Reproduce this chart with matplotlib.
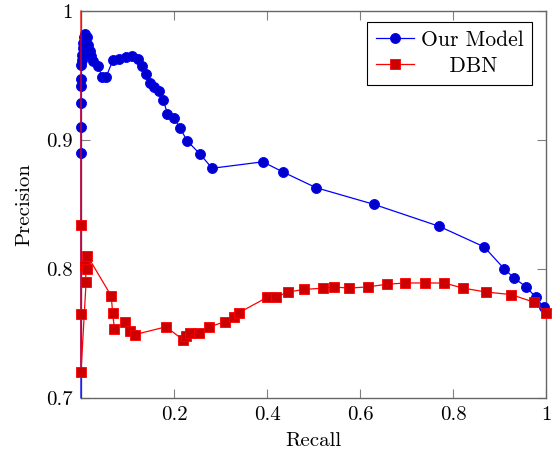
import matplotlib
matplotlib.use("Agg")
import matplotlib.pyplot as plt

plt.rcParams['font.family'] = ['cmr10', 'DejaVu Serif']
plt.rcParams['mathtext.fontset'] = 'cm'
plt.rcParams['axes.formatter.use_mathtext'] = True

# Our Model (first point is the line start without marker)
model_recall = [0.0, 0.0, 0.0, 0.0, 0.0, 0.0, 0.001, 0.002, 0.003, 0.004, 0.005, 0.006,
                0.008, 0.012, 0.016, 0.019, 0.022, 0.026, 0.037, 0.045, 0.054, 0.069,
                0.082, 0.097, 0.109, 0.123, 0.131, 0.140, 0.148, 0.157, 0.168, 0.177,
                0.186, 0.200, 0.213, 0.229, 0.256, 0.282, 0.391, 0.435, 0.505, 0.630,
                0.770, 0.867, 0.910, 0.931, 0.957, 0.978, 0.995]
model_precision = [0.700, 0.890, 0.910, 0.929, 0.942, 0.947, 0.958, 0.962, 0.966, 0.971, 0.975, 0.980,
                   0.982, 0.980, 0.974, 0.969, 0.965, 0.961, 0.957, 0.949, 0.949, 0.962,
                   0.963, 0.964, 0.965, 0.963, 0.957, 0.951, 0.944, 0.941, 0.938, 0.931,
                   0.920, 0.917, 0.909, 0.899, 0.889, 0.878, 0.883, 0.875, 0.863, 0.850,
                   0.833, 0.817, 0.800, 0.793, 0.786, 0.778, 0.770]

# DBN (first point is the line start without marker)
dbn_recall = [0.0, 0.0, 0.0, 0.0, 0.011, 0.009, 0.014, 0.014, 0.065, 0.068, 0.072,
              0.095, 0.105, 0.116, 0.183, 0.219, 0.226, 0.235, 0.254, 0.276, 0.310,
              0.328, 0.340, 0.401, 0.419, 0.445, 0.480, 0.520, 0.544, 0.576, 0.617,
              0.657, 0.697, 0.740, 0.781, 0.822, 0.871, 0.925, 0.975, 1.0]
dbn_precision = [1.0, 0.834, 0.765, 0.720, 0.790, 0.802, 0.800, 0.810, 0.779, 0.766, 0.753,
                 0.759, 0.752, 0.749, 0.755, 0.745, 0.748, 0.750, 0.750, 0.755, 0.759,
                 0.763, 0.766, 0.778, 0.778, 0.782, 0.784, 0.785, 0.786, 0.785, 0.786,
                 0.788, 0.789, 0.789, 0.789, 0.785, 0.782, 0.780, 0.774, 0.766]

xticks = [0.2, 0.4, 0.6, 0.8, 1.0]
xticklabels = ['0.2', '0.4', '0.6', '0.8', '1']
yticks = [0.7, 0.8, 0.9, 1.0]
yticklabels = ['0.7', '0.8', '0.9', '1']

fig = plt.figure(figsize=(5.57, 4.55), dpi=100)
ax = fig.add_axes([0.1454, 0.1259, 0.9803 - 0.1454, 0.9758 - 0.1259])

ax.plot(model_recall, model_precision, color='#0000ff', lw=0.9, marker='o', ms=7.2,
        mfc='#0000cc', mec='#0000ff', mew=0.6, markevery=list(range(1, len(model_recall))),
        label='Our Model', clip_on=False, zorder=4)
ax.plot(dbn_recall, dbn_precision, color='#ff0000', lw=0.9, marker='s', ms=6.5,
        mfc='#cc0000', mec='#ff0000', mew=0.6, markevery=list(range(1, len(dbn_recall))),
        label='    DBN', clip_on=False, zorder=5)

ax.set_xlim(0, 1)
ax.set_ylim(0.7, 1.0)
ax.set_xticks(xticks)
ax.set_xticklabels(xticklabels)
ax.set_yticks(yticks)
ax.set_yticklabels(yticklabels)
ax.tick_params(direction='in', length=6.5, width=0.8, color='#808080', labelsize=15,
               top=True, right=True, pad=6)
for s in ax.spines.values():
    s.set_color('#666666')
    s.set_linewidth(1.0)

ax.set_xlabel('Recall', fontsize=15, labelpad=6)
ax.set_ylabel('Precision', fontsize=15, labelpad=9)

leg = ax.legend(loc='upper right', bbox_to_anchor=(0.97, 0.972), fontsize=15.5,
                fancybox=False, framealpha=1, edgecolor='black', handlelength=1.8,
                handletextpad=0.3, borderpad=0.4, labelspacing=0.3, borderaxespad=0)
leg.get_frame().set_linewidth(0.8)

fig.savefig('out.png', dpi=100)
